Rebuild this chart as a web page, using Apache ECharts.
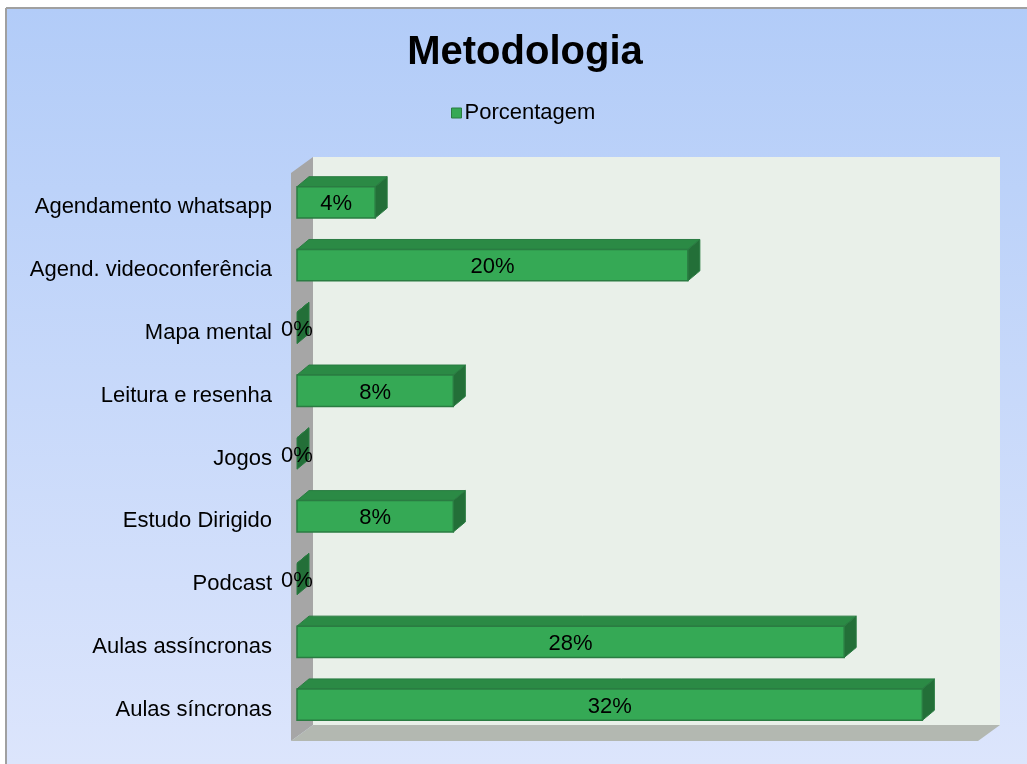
<!DOCTYPE html>
<html>
<head>
<meta charset="utf-8">
<title>Metodologia</title>
<script src="https://cdn.jsdelivr.net/npm/echarts@6/dist/echarts.min.js"></script>
<style>
  html, body { margin: 0; padding: 0; background: #fff; }
  #chart1 { width: 1027px; height: 764px; }
</style>
</head>
<body>
<div id="chart1"></div>
<script>
// categorias de baixo para cima (eixo y)
var categories = ['Aulas síncronas', 'Aulas assíncronas', 'Podcast', 'Estudo Dirigido', 'Jogos',
    'Leitura e resenha', 'Mapa mental', 'Agend. videoconferência', 'Agendamento whatsapp'];
var percentages = [32, 28, 0, 8, 0, 8, 0, 20, 4];
var axisMax = 35;

// layout
var W = 1027, H = 764;
var gridLeft = 297, gridTop = 171, gridRight = 46, gridBottom = 28;
var barDX = 12, barDY = 10;      // profundidade da barra
var wallDX = 22, wallDY = 16;    // profundidade da parede

var frontL = gridLeft - 6, frontR = W - gridRight - 3;
var frontT = gridTop + 2, frontB = H - gridBottom + 5;

var green = '#35a955', greenTop = '#2b8a45', greenSide = '#236f38', greenLine = '#2a7c42';
var font = 'Arial, Liberation Sans';

var myChart1 = echarts.init(document.getElementById('chart1'));

function renderBar(params, api) {
    var val = api.value(0);
    var start = api.coord([0, api.value(1)]);
    var end = api.coord([val, api.value(1)]);
    var h = api.size([0, 1])[1] * 0.5;
    var x = start[0], y = start[1] - h / 2, w = end[0] - start[0];
    return {
        type: 'group',
        children: [
            {
                type: 'polygon',
                shape: { points: [[x, y], [x + barDX, y - barDY], [x + w + barDX, y - barDY], [x + w, y]] },
                style: { fill: greenTop, stroke: greenLine, lineWidth: 1 }
            },
            {
                type: 'polygon',
                shape: { points: [[x + w, y], [x + w + barDX, y - barDY], [x + w + barDX, y + h - barDY], [x + w, y + h]] },
                style: { fill: greenSide, stroke: greenLine, lineWidth: 1 }
            },
            {
                type: 'rect',
                shape: { x: x, y: y, width: w, height: h },
                style: { fill: green, stroke: greenLine, lineWidth: w > 0 ? 1.5 : 0 }
            },
            {
                type: 'text',
                x: x + w / 2,
                y: y + h / 2 + 2,
                style: {
                    text: val + '%', fill: '#000', fontSize: 22, fontFamily: font,
                    align: 'center', verticalAlign: 'middle'
                }
            }
        ]
    };
}

myChart1.setOption({
    animation: false,
    title: {
        text: 'Metodologia',
        left: 520,
        textAlign: 'center',
        top: 28,
        textStyle: { fontSize: 40, fontWeight: 'bold', color: '#000', fontFamily: font }
    },
    legend: {
        top: 97,
        left: 446,
        icon: 'rect',
        itemWidth: 10,
        itemHeight: 10,
        textStyle: { fontSize: 22, color: '#000', fontFamily: font, padding: [0, 0, 0, -2] },
        data: [{ name: 'Porcentagem', itemStyle: { color: green, borderColor: greenLine, borderWidth: 1 } }]
    },
    graphic: [
        {
            type: 'rect', z: -20,
            shape: { x: 6, y: 8, width: W - 6, height: H - 8 },
            style: {
                fill: new echarts.graphic.LinearGradient(0, 0, 0, 1, [
                    { offset: 0, color: '#b2ccf8' },
                    { offset: 1, color: '#dce5fc' }
                ])
            }
        },
        { type: 'line', z: -19, shape: { x1: 6, y1: 8, x2: W, y2: 8 }, style: { stroke: '#a0a0a0', lineWidth: 2 } },
        { type: 'line', z: -19, shape: { x1: 6, y1: 8, x2: 6, y2: H }, style: { stroke: '#a0a0a0', lineWidth: 2 } },
        // parede do fundo
        {
            type: 'rect', z: -10,
            shape: { x: frontL + wallDX, y: frontT - wallDY, width: frontR - frontL, height: frontB - frontT },
            style: { fill: '#e9f0e9' }
        },
        // parede lateral
        {
            type: 'polygon', z: -9,
            shape: { points: [[frontL, frontT], [frontL + wallDX, frontT - wallDY], [frontL + wallDX, frontB - wallDY], [frontL, frontB]] },
            style: { fill: '#a6a6a6' }
        },
        // piso
        {
            type: 'polygon', z: -9,
            shape: { points: [[frontL, frontB], [frontL + wallDX, frontB - wallDY], [frontR + wallDX, frontB - wallDY], [frontR, frontB]] },
            style: { fill: '#b3b8b1' }
        }
    ],
    grid: { left: gridLeft, right: gridRight, top: gridTop, bottom: gridBottom, containLabel: false },
    xAxis: {
        type: 'value', min: 0, max: axisMax, show: false, splitLine: { show: false }
    },
    yAxis: {
        type: 'category',
        data: categories,
        axisLine: { show: false },
        axisTick: { show: false },
        axisLabel: {
            margin: 25, color: '#000',
            formatter: '{a|{value}}',
            rich: { a: { fontSize: 22, color: '#000', fontFamily: font, padding: [10, 0, 0, 0] } }
        }
    },
    series: [
        {
            name: 'Porcentagem',
            type: 'custom',
            renderItem: renderBar,
            itemStyle: { color: green },
            encode: { x: 0, y: 1 },
            data: percentages.map(function (v, i) { return [v, i]; })
        }
    ]
});

window.onresize = function () {
    myChart1.resize();
};
</script>
</body>
</html>
